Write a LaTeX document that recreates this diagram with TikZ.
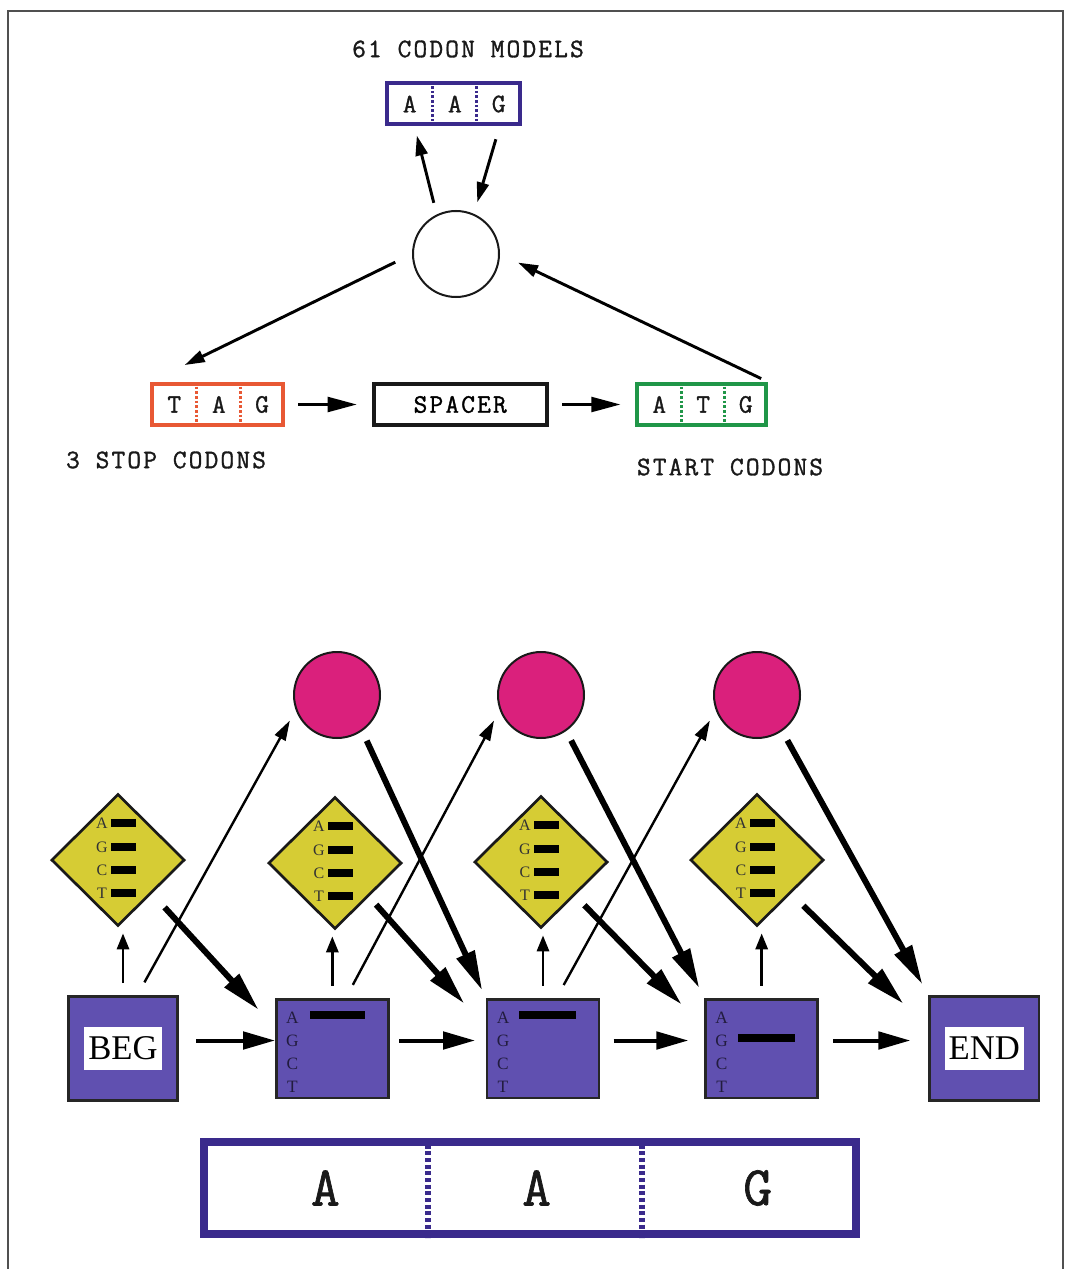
\documentclass[tikz,border=0pt]{standalone}
\usepackage{fontspec}
\setmainfont{Liberation Serif}
\newfontfamily\codonfont{Latin Modern Mono}[LetterSpace=8, FakeBold=1.2]
\usetikzlibrary{arrows.meta,positioning,shapes.geometric,calc}
\definecolor{codonblue}{RGB}{58,42,140}
\definecolor{stopred}{RGB}{232,88,52}
\definecolor{startgreen}{RGB}{32,150,72}
\definecolor{matchblue}{RGB}{96,80,176}
\definecolor{insertyellow}{RGB}{214,204,52}
\definecolor{deletepink}{RGB}{218,32,124}
\definecolor{framegray}{RGB}{80,80,80}

\begin{document}
\begin{tikzpicture}[
    x=0.75pt, y=-0.75pt,
    codon/.style={draw, line width=3pt, minimum height=30.75pt, inner sep=0pt},
    divider/.style={line width=2pt, dash pattern=on 2pt off 1.5pt},
    codonletter/.style={font=\codonfont\fontsize{20}{22}\selectfont, text=black!90, inner sep=0pt},
    modeltext/.style={font=\codonfont\fontsize{20}{22}\selectfont, text=black!90},
    hubarrow/.style={-{Triangle[length=15pt, width=9pt]}, line width=2.2pt},
    topflow/.style={-{Triangle[length=22pt, width=11pt]}, line width=2.5pt},
    matchstate/.style={draw=black!85, fill=matchblue, line width=2pt, minimum width=84pt, minimum height=74pt, inner sep=0pt},
    endpoint/.style={matchstate, minimum width=82pt, minimum height=78pt},
    statelabel/.style={fill=white, font=\fontsize{26}{28}\selectfont, inner xsep=3pt, inner ysep=0pt, minimum height=32pt},
    stateletter/.style={font=\fontsize{13}{13}\selectfont, text=matchblue!35!black, inner sep=0pt},
    insertstate/.style={diamond, aspect=1, draw=black!90, fill=insertyellow, line width=2pt, minimum width=100pt, minimum height=99pt, inner sep=0pt},
    insertletter/.style={font=\fontsize{12}{12}\selectfont, text=black!80, inner sep=0pt},
    deletestate/.style={circle, draw=black!90, fill=deletepink, line width=1.5pt, minimum size=64.5pt, inner sep=0pt},
    flowarrow/.style={-{Triangle[length=24pt, width=13pt]}, line width=3pt},
    thickarrow/.style={-{Triangle[length=30pt, width=14pt]}, line width=4.5pt},
    thinarrow/.style={-{Triangle[length=15pt, width=9pt]}, line width=1.8pt},
    uparrow/.style={-{Triangle[length=12pt, width=9pt]}, line width=2.2pt}
]
    \useasboundingbox (0,0) rectangle (1066,1269);
    \draw[framegray, line width=1.6pt] (8,1269) -- (8,11) -- (1063,11) -- (1063,1269);

    % codon model cycle
    \node[modeltext] (models) at (468,49) {61 CODON MODELS};
    \node[codon, draw=codonblue, minimum width=99.75pt] (codon) at (453.5,104) {};
    \node[circle, draw=black!90, line width=1.5pt, minimum size=64.5pt] (hub) at (456,254) {};
    \node[codon, draw=stopred, minimum width=98.25pt] (stop) at (217.5,404.5) {};
    \node[codon, draw=black!90, minimum width=129.75pt, font=\codonfont\fontsize{20}{22}\selectfont, right=65pt of stop] (spacer) {SPACER};
    \node[codon, draw=startgreen, minimum width=96.75pt, right=65pt of spacer] (start) {};
    \node[modeltext] (stoplabel) at (166,460) {3 STOP CODONS};
    \node[modeltext] (startlabel) at (730,467) {START CODONS};

    \foreach \cb/\col/\la/\lb/\lc in {codon/codonblue/A/A/G, stop/stopred/T/A/G, start/startgreen/A/T/G} {
        \draw[divider, \col] ($(\cb.north west)!0.345!(\cb.north east)$) -- ($(\cb.south west)!0.345!(\cb.south east)$);
        \draw[divider, \col] ($(\cb.north west)!0.67!(\cb.north east)$) -- ($(\cb.south west)!0.67!(\cb.south east)$);
        \node[codonletter] (\cb-1) at ($(\cb.west)!0.18!(\cb.east)$) {\la};
        \node[codonletter] (\cb-2) at ($(\cb.west)!0.51!(\cb.east)$) {\lb};
        \node[codonletter] (\cb-3) at ($(\cb.west)!0.83!(\cb.east)$) {\lc};
    }

    \draw[hubarrow, shorten <=9pt, shorten >=7pt] (hub.116) -- (codon.210);
    \draw[hubarrow, shorten <=10pt, shorten >=9pt] (codon.334) -- (hub.66);
    \draw[hubarrow, shorten <=14pt, shorten >=29pt] (hub.west) -- (stop.north west);
    \draw[hubarrow, shorten <=6pt, shorten >=15pt] (start.north east) -- (hub.east);
    \draw[topflow, shorten <=10pt, shorten >=11pt] (stop) -- (spacer);
    \draw[topflow, shorten <=10pt, shorten >=11pt] (spacer) -- (start);

    % profile HMM for one codon
    \node[endpoint] (beg) at (123,1048.5) {};
    \node[statelabel] (beglabel) at (beg) {BEG};
    \node[matchstate, right=72pt of beg] (m1) {};
    \node[matchstate, right=72pt of m1] (m2) {};
    \node[matchstate, right=78pt of m2] (m3) {};
    \node[endpoint, right=82pt of m3] (term) {};
    \node[statelabel] (termlabel) at (term) {END};

    \node[insertstate] (d1) at (118,860) {};
    \node[insertstate] (d2) at (335,863) {};
    \node[insertstate] (d3) at (541,862) {};
    \node[insertstate] (d4) at (757,860) {};

    \node[deletestate] (p1) at (337,695) {};
    \node[deletestate] (p2) at (541,695) {};
    \node[deletestate] (p3) at (757,695) {};

    \foreach \d in {d1,d2,d3,d4} {
        \foreach \b/\dy in {A/-37, G/-13, C/10, T/33} {
            \node[insertletter] (\d-\b) at ($(\d.center)+(-16,\dy)$) {\b};
            \fill ($(\d.center)+(-7,\dy-4)$) rectangle ($(\d.center)+(18,\dy+4)$);
        }
    }
    \foreach \s in {m1,m2,m3} {
        \foreach \b/\dy in {A/-31, G/-8, C/15, T/38}
            \node[stateletter] (\s-\b) at ($(\s.center)+(-40,\dy)$) {\b};
    }
    \fill ($(m1.center)+(-22,-38)$) rectangle ($(m1.center)+(33,-30)$);
    \fill ($(m2.center)+(-24,-38)$) rectangle ($(m2.center)+(33,-30)$);
    \fill ($(m3.center)+(-24,-15)$) rectangle ($(m3.center)+(33,-7)$);

    \draw[flowarrow, shorten <=13pt] ([yshift=6pt]beg.east) -- ([yshift=6pt]m1.west);
    \draw[flowarrow, shorten <=7pt, shorten >=8pt] ([yshift=6pt]m1.east) -- ([yshift=6pt]m2.west);
    \draw[flowarrow, shorten <=10pt, shorten >=12pt] ([yshift=6pt]m2.east) -- ([yshift=6pt]m3.west);
    \draw[flowarrow, shorten <=10.5pt, shorten >=13.5pt] ([yshift=6pt]m3.east) -- ([yshift=6pt]term.west);

    \draw[uparrow, shorten <=9pt, shorten >=4.5pt] (beg.north) -- (beg.north |- d1.south);
    \draw[uparrow, shorten <=9pt, shorten >=4.5pt] (m1.north) -- (m1.north |- d2.south);
    \draw[uparrow, shorten <=9pt, shorten >=4.5pt] (m2.north) -- (m2.north |- d3.south);
    \draw[uparrow, shorten <=9pt, shorten >=4.5pt] (m3.north) -- (m3.north |- d4.south);

    \draw[thinarrow, shorten <=11pt, shorten >=9pt] (beg.75) -- (p1.200);
    \draw[thinarrow, shorten <=11pt, shorten >=9pt] (m1.75) -- (p2.200);
    \draw[thinarrow, shorten <=11pt, shorten >=9pt] (m2.75) -- (p3.200);

    \draw[thickarrow, shorten <=8pt, shorten >=6pt] (p1.305) -- (m2.north west);
    \draw[thickarrow, shorten <=8pt, shorten >=8pt] (p2.305) -- (m3.north west);
    \draw[thickarrow, shorten <=8pt, shorten >=9pt] (p3.305) -- (term.north west);
    \draw[thickarrow, shorten <=14pt, shorten >=18pt] (d1.south east) -- (m1.160);
    \draw[thickarrow, shorten <=8pt, shorten >=24pt] (d2.south east) -- (m2.160);
    \draw[thickarrow, shorten <=10pt, shorten >=24pt] (d3.south east) -- (m3.160);
    \draw[thickarrow, shorten <=13pt, shorten >=26pt] (d4.south east) -- (term.160);

    % observed codon
    \node[draw=codonblue, line width=6pt, minimum width=489pt, minimum height=69pt, inner sep=0pt] (observed) at (530,1188) {};
    \draw[codonblue, line width=4.5pt, dash pattern=on 3pt off 2pt] ($(observed.north west)!0.345!(observed.north east)$) -- ($(observed.south west)!0.345!(observed.south east)$);
    \draw[codonblue, line width=4.5pt, dash pattern=on 3pt off 2pt] ($(observed.north west)!0.67!(observed.north east)$) -- ($(observed.south west)!0.67!(observed.south east)$);
    \node[font=\codonfont\fontsize{42}{42}\selectfont, text=black!90] (obs-1) at ($(observed.west)!0.19!(observed.east)$) {A};
    \node[font=\codonfont\fontsize{42}{42}\selectfont, text=black!90] (obs-2) at ($(observed.west)!0.51!(observed.east)$) {A};
    \node[font=\codonfont\fontsize{42}{42}\selectfont, text=black!90] (obs-3) at ($(observed.west)!0.845!(observed.east)$) {G};
\end{tikzpicture}
\end{document}
